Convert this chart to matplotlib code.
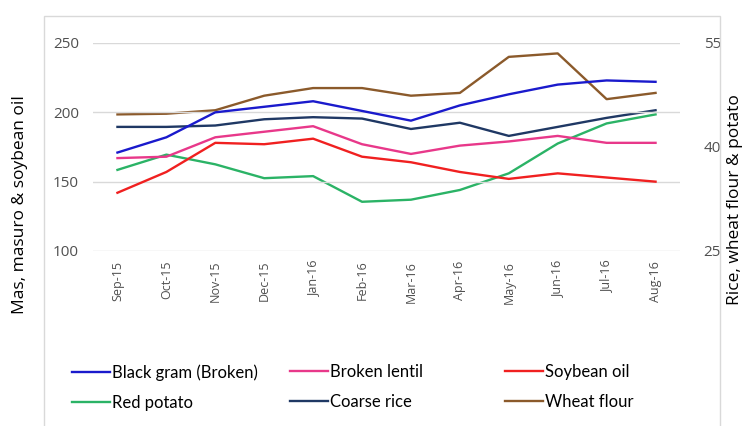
import matplotlib
matplotlib.use('Agg')
import matplotlib.pyplot as plt
from matplotlib.patches import Rectangle

plt.rcParams['font.family'] = ['Open Sans', 'DejaVu Sans']

months = ['Sep-15', 'Oct-15', 'Nov-15', 'Dec-15', 'Jan-16', 'Feb-16',
          'Mar-16', 'Apr-16', 'May-16', 'Jun-16', 'Jul-16', 'Aug-16']

# left axis series
black_gram = [171, 182, 200, 204, 208, 201, 194, 205, 213, 220, 223, 222]
broken_lentil = [167, 168, 182, 186, 190, 177, 170, 176, 179, 183, 178, 178]
soybean_oil = [142, 157, 178, 177, 181, 168, 164, 157, 152, 156, 153, 150]

# right axis series
red_potato = [36.7, 38.9, 37.5, 35.5, 35.8, 32.1, 32.4, 33.8, 36.2, 40.5, 43.4, 44.7]
coarse_rice = [42.9, 42.9, 43.1, 44.0, 44.3, 44.1, 42.6, 43.5, 41.6, 42.9, 44.2, 45.3]
wheat_flour = [44.7, 44.8, 45.3, 47.4, 48.5, 48.5, 47.4, 47.8, 53.0, 53.5, 46.9, 47.8]

left_ticks = [100, 150, 200, 250]
right_ticks = [25, 40, 55]

fig = plt.figure(figsize=(7.44, 4.26), dpi=100)
fig.patches.append(Rectangle((44/744, -0.1), (720-44)/744, 1.1 - 16/426,
                             transform=fig.transFigure, fill=False,
                             edgecolor='#D9D9D9', linewidth=1.0))

ax = fig.add_axes([93/744, 1 - 251/426, 587/744, 208/426])
ax2 = ax.twinx()
x = list(range(len(months)))
lw = 1.7

h4, = ax2.plot(x, red_potato, color='#2BB366', lw=lw, label='Red potato')
h5, = ax2.plot(x, coarse_rice, color='#1F3864', lw=lw, label='Coarse rice')
h6, = ax2.plot(x, wheat_flour, color='#8B5A2B', lw=lw, label='Wheat flour')
h1, = ax.plot(x, black_gram, color='#1A1ACC', lw=lw, label='Black gram (Broken)')
h2, = ax.plot(x, broken_lentil, color='#E8388A', lw=lw, label='Broken lentil')
h3, = ax.plot(x, soybean_oil, color='#F02020', lw=lw, label='Soybean oil')

# put left-axis lines above the twin axis
ax.set_zorder(ax2.get_zorder() + 1)
ax.patch.set_visible(False)

ax.set_xlim(-0.5, len(months) - 0.5)
ax.set_ylim(100, 250)
ax2.set_ylim(25, 55)
ax.set_yticks(left_ticks)
ax2.set_yticks(right_ticks)
ax.set_xticks(x)
ax.set_xticklabels(months, rotation=90)
ax.grid(axis='y', color='#D9D9D9', lw=1.0)
ax.set_axisbelow(True)

for a in (ax, ax2):
    for s in a.spines.values():
        s.set_visible(False)
    a.tick_params(length=0, colors='#505050')
ax.tick_params(axis='y', labelsize=11, pad=10)
ax2.tick_params(axis='y', labelsize=11, pad=17)
ax.tick_params(axis='x', labelsize=9, pad=7)

fig.text(20/744, 1 - 205/426, 'Mas, masuro & soybean oil', rotation=90,
         ha='center', va='center', fontsize=12.5)
fig.text(735/744, 1 - 200/426, 'Rice, wheat flour & potato', rotation=90,
         ha='center', va='center', fontsize=12.5)

leg_font = {'family': ['Lato', 'DejaVu Sans'], 'size': 12}
for hs, xl in (([h1, h4], 72), ([h2, h5], 290), ([h3, h6], 505)):
    fig.legend(handles=hs, loc='upper left', bbox_to_anchor=(xl/744, 1 - 364/426),
               frameon=False, prop=leg_font, handlelength=2.3, handletextpad=0.1,
               labelspacing=0.85, borderpad=0, borderaxespad=0)

fig.savefig('out.png', dpi=100)
